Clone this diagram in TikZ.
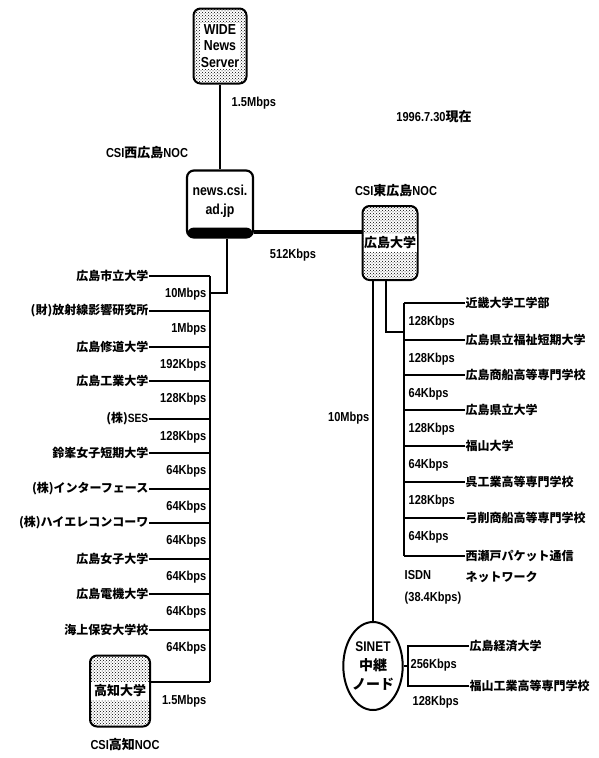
\documentclass[tikz,border=0pt]{standalone}
\usepackage{fontspec}
\setmainfont{Liberation Sans}[FakeStretch=0.85]
\newfontfamily\jp{Noto Sans CJK JP}
\usetikzlibrary{positioning,shapes.geometric,patterns}
\tikzset{
  ln/.style={line width=2pt},
  trunk/.style={line width=4pt},
  site/.style={font=\jp\bfseries\fontsize{12}{14}\selectfont, inner sep=0.5pt},
  rate/.style={font=\bfseries\fontsize{13}{15}\selectfont, inner sep=0.5pt},
  nocbox/.style={draw, line width=2pt, rounded corners=7pt, pattern=crosshatch dots, pattern color=black},
  boxtxt/.style={font=\bfseries\fontsize{14.5}{16.5}\selectfont, align=center, inner sep=1pt},
}
\begin{document}
\begin{tikzpicture}[x=1pt,y=-1pt]
\useasboundingbox (0,0) rectangle (599,758);
\node[nocbox, minimum width=53pt, minimum height=75pt] (wide) at (220,46) {};
\node[boxtxt, fill=white] (widetxt) at (wide) {WIDE\\News\\Server};
\node[draw, line width=2.2pt, rounded corners=7pt, minimum width=66pt, minimum height=67pt,
  path picture={\fill ([yshift=10pt]path picture bounding box.south west) rectangle (path picture bounding box.south east);}] (news) at (220,204) {};
\node[boxtxt, font=\bfseries\fontsize{14.5}{19}\selectfont] (newstxt) at (220,201) {news.csi.\\ad.jp};
\draw[ln] (wide) -- (news);
\node[rate, anchor=west] (r0) at (231,103) {1.5Mbps};
\node[rate] (date) at (434,117) {1996.7.30{\jp\bfseries 現在}};
\node[rate] (westnoc) at (147,153) {CSI{\jp\bfseries 西広島}NOC};
\node[rate] (eastnoc) at (396,191) {CSI{\jp\bfseries 東広島}NOC};
\node[nocbox, minimum width=55pt, minimum height=74pt] (hu) at (390,243) {};
\node[site, fill=white, inner ysep=3pt, minimum width=53pt, font=\jp\bfseries\fontsize{13}{15}\selectfont] (hutxt) at (hu) {広島大学};
\draw[trunk] ([yshift=-28pt]news.east) coordinate (t) -- (t -| hu.west);
\node[rate] (r512) at (293,255) {512Kbps};

\coordinate (lfeed) at (227,293);
\coordinate (ltop) at (210,276);
\coordinate (lbot) at (210,682);
\draw[ln] (news.south -| lfeed) |- (lfeed -| ltop);
\draw[ln] (ltop) -- (lbot);
\foreach \y/\s/\r [count=\i] in {276/広島市立大学/10Mbps, 311/{(財)放射線影響研究所}/1Mbps,
  347/広島修道大学/192Kbps, 381/広島工業大学/128Kbps, 419/{(株){\normalfont\bfseries SES}}/128Kbps,
  453/鈴峯女子短期大学/64Kbps, 489/{(株)インターフェース}/64Kbps, 523/{(株)ハイエレコンコーワ}/64Kbps,
  559/広島女子大学/64Kbps, 594/広島電機大学/64Kbps, 630/海上保安大学校/64Kbps}{
  \node[site, anchor=east] (l\i) at (149,\y) {\s};
  \draw[ln] (l\i.east) -- (l\i.east -| ltop);
  \node[rate, anchor=east] (lr\i) at (207,\y+18) {\r};
}
\node[nocbox, minimum width=60pt, minimum height=71pt] (kochi) at (120,691) {};
\node[site, fill=white, inner ysep=3pt, minimum width=58pt, font=\jp\bfseries\fontsize{13}{15}\selectfont] (kochitxt) at (kochi) {高知大学};
\draw[ln] (lbot) -- (lbot -| kochi.east);
\node[rate, anchor=east] (lr12) at (207,701) {1.5Mbps};
\node[rate] (kochinoc) at (125,745) {CSI{\jp\bfseries 高知}NOC};

\node[draw, ellipse, line width=2pt, minimum width=57pt, minimum height=88pt, align=center, inner sep=0pt,
  font=\bfseries\fontsize{14}{19}\selectfont] (sinet) at (373,666) {SINET\\{\jp\bfseries 中継}\\{\jp\bfseries ノード}};
\draw[ln] (hu.south -| sinet.north) -- (sinet.north);
\node[rate, anchor=east] (r10) at (370,418) {10Mbps};

\coordinate (rfeed) at (386,332);
\coordinate (rtop) at (404,303);
\coordinate (rbot) at (404,556);
\draw[ln] (hu.south -| rfeed) |- (rfeed -| rtop);
\draw[ln] (rtop) -- (rbot);
\foreach \y/\s/\r [count=\i] in {303/近畿大学工学部/128Kbps, 340/広島県立福祉短期大学/128Kbps,
  375/広島商船高等専門学校/64Kbps, 410/広島県立大学/128Kbps, 446/福山大学/64Kbps,
  482/呉工業高等専門学校/128Kbps, 518/弓削商船高等専門学校/64Kbps}{
  \node[site, anchor=west] (rs\i) at (465,\y) {\s};
  \draw[ln] (rs\i.west) -- (rs\i.west -| rtop);
  \node[rate, anchor=west] (rr\i) at (408,\y+19) {\r};
}
\node[site, anchor=west] (rs8) at (465,556) {西瀬戸パケット通信};
\node[site, anchor=west] (rs9) at (465,577) {ネットワーク};
\draw[ln] (rs8.west) -- (rbot);
\node[rate, anchor=west] (isdn) at (404,575) {ISDN};
\node[rate, anchor=west] (isdnr) at (404,598) {(38.4Kbps)};

\node[site, anchor=west] (s1) at (469,646) {広島経済大学};
\node[site, anchor=west] (s2) at (469,686) {福山工業高等専門学校};
\coordinate (sbus) at (408,666);
\draw[ln] (sinet.east) -- (sbus);
\draw[ln] (s1.west) -- (s1.west -| sbus) -- (s2.west -| sbus) -- (s2.west);
\node[rate, anchor=west] (sr1) at (410,665) {256Kbps};
\node[rate, anchor=west] (sr2) at (412,702) {128Kbps};
\end{tikzpicture}
\end{document}
